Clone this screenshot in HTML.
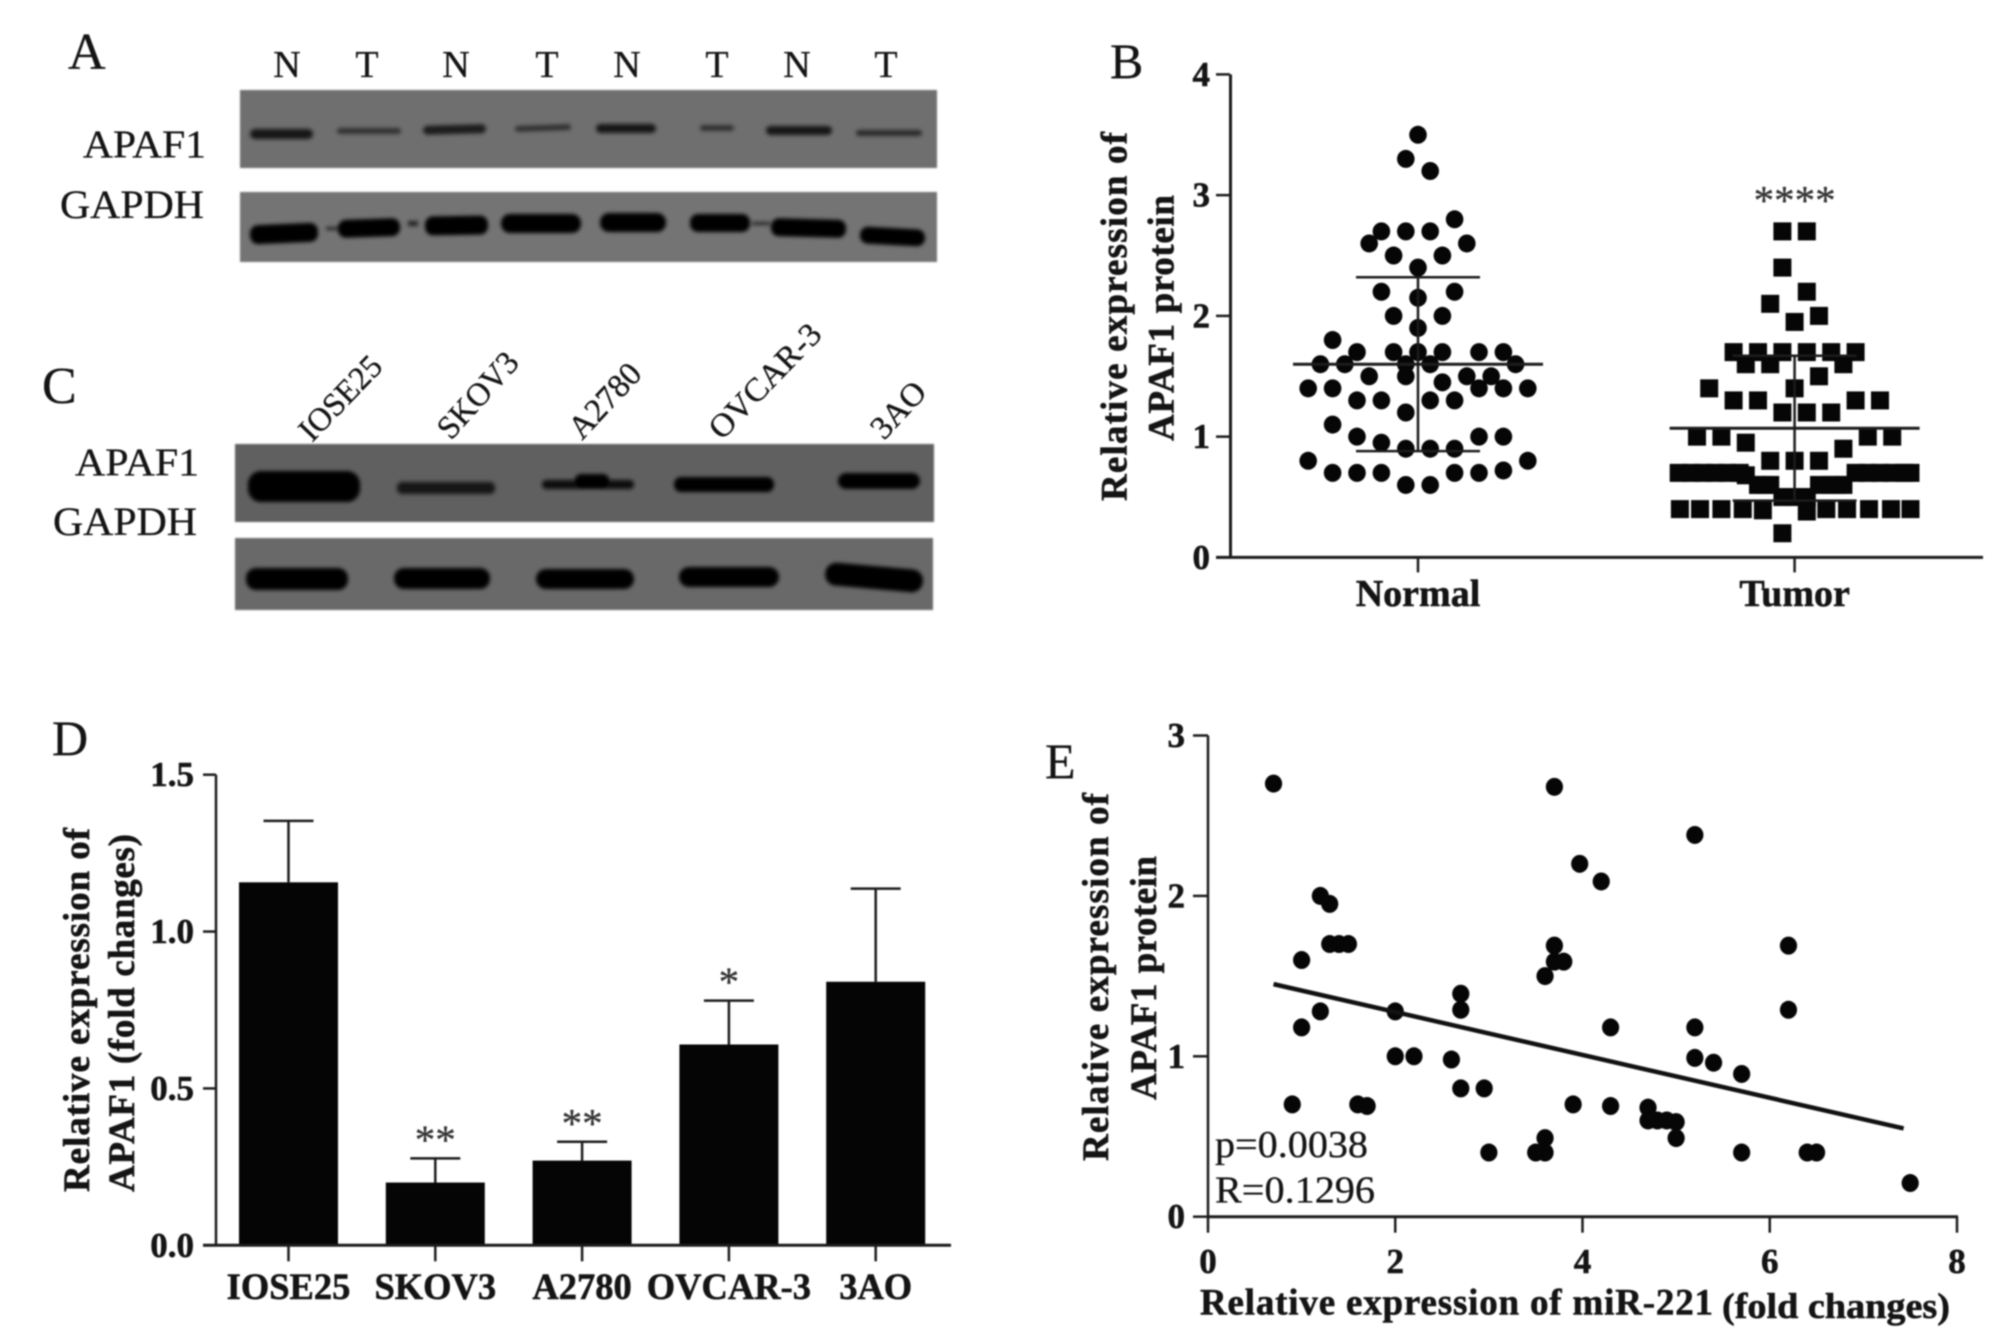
<!DOCTYPE html>
<html>
<head>
<meta charset="utf-8">
<title>APAF1 expression figure</title>
<style>
html,body{margin:0;padding:0;background:#fff;}
svg{display:block;filter:blur(0.85px);}
text{font-family:"Liberation Serif",serif;fill:#141414;stroke:#141414;stroke-width:0.3;}
.b{font-weight:bold;stroke-width:0.55;}
</style>
</head>
<body>
<svg id="fig" xmlns="http://www.w3.org/2000/svg" width="2008" height="1344" viewBox="0 0 2008 1344">
<defs>
<filter id="bs" x="-30%" y="-100%" width="160%" height="300%"><feGaussianBlur stdDeviation="1.9"/></filter>
</defs>
<rect width="2008" height="1344" fill="#fff"/>

<!-- Panel letters -->
<text x="68" y="69" font-size="52">A</text>
<text x="1110" y="78" font-size="50">B</text>
<text x="42" y="403" font-size="52">C</text>
<text x="52" y="755" font-size="50">D</text>
<text x="1045" y="778" font-size="50">E</text>

<!-- Panel A -->
<g>
<g font-size="38" text-anchor="middle">
<text x="287" y="77">N</text>
<text x="367" y="77">T</text>
<text x="456" y="77">N</text>
<text x="547" y="77">T</text>
<text x="627" y="77">N</text>
<text x="717" y="77">T</text>
<text x="797" y="77">N</text>
<text x="886" y="77">T</text>
</g>
<text x="83" y="157" font-size="39" textLength="123" lengthAdjust="spacingAndGlyphs">APAF1</text>
<text x="60" y="218" font-size="40" textLength="144" lengthAdjust="spacingAndGlyphs">GAPDH</text>
<svg x="240" y="90" width="697" height="78" viewBox="240 90 697 78">
<rect x="240" y="90" width="697" height="78" fill="#6f6f6f"/>
<g filter="url(#bs)">
<rect x="250" y="129" width="63" height="10" rx="5" fill="#161616"/>
<rect x="337" y="128" width="64" height="6" rx="3" fill="#303030"/>
<rect x="423" y="125" width="63" height="9" rx="4.5" fill="#1e1e1e" transform="rotate(-1.5 454 130)"/>
<rect x="515" y="125" width="56" height="6" rx="3" fill="#303030" transform="rotate(-2 542 128)"/>
<rect x="596" y="124" width="60" height="9" rx="4.5" fill="#181818"/>
<rect x="700" y="125" width="34" height="6" rx="3" fill="#333"/>
<rect x="766" y="126" width="66" height="9" rx="4.5" fill="#151515"/>
<rect x="856" y="130" width="66" height="6" rx="3" fill="#2c2c2c"/>
</g>
</svg>
<svg x="240" y="192" width="697" height="70" viewBox="240 192 697 70">
<rect x="240" y="192" width="697" height="70" fill="#747474"/>
<g fill="#060606" filter="url(#bs)">
<rect x="250" y="224" width="68" height="19" rx="8" transform="rotate(-2.5 284 233)"/>
<rect x="338" y="219" width="62" height="18" rx="8" transform="rotate(-2 369 228)"/>
<rect x="425" y="216" width="63" height="19" rx="8" transform="rotate(-1 456 225)"/>
<rect x="501" y="214" width="80" height="19" rx="9"/>
<rect x="600" y="213" width="66" height="19" rx="9"/>
<rect x="690" y="214" width="60" height="18" rx="8"/>
<rect x="771" y="219" width="75" height="18" rx="8" transform="rotate(1.5 808 228)"/>
<rect x="860" y="228" width="65" height="17" rx="8" transform="rotate(3 892 236)"/>
<rect x="326" y="227" width="12" height="3" fill="#222"/>
<rect x="408" y="221" width="10" height="5" fill="#222"/>
<rect x="752" y="222" width="18" height="3" fill="#222"/>
</g>
</svg>
</g>

<!-- Panel C -->
<g>
<g font-size="33">
<text transform="translate(312,443) rotate(-46)" textLength="104" lengthAdjust="spacingAndGlyphs">IOSE25</text>
<text transform="translate(451,441) rotate(-48)" textLength="104" lengthAdjust="spacingAndGlyphs">SKOV3</text>
<text transform="translate(582,441) rotate(-47)" textLength="90" lengthAdjust="spacingAndGlyphs">A2780</text>
<text transform="translate(722,441) rotate(-46)" textLength="146" lengthAdjust="spacingAndGlyphs">OVCAR-3</text>
<text transform="translate(884,441) rotate(-47)" textLength="65" lengthAdjust="spacingAndGlyphs">3AO</text>
</g>
<text x="75" y="475" font-size="39" textLength="124" lengthAdjust="spacingAndGlyphs">APAF1</text>
<text x="53" y="535" font-size="40" textLength="144" lengthAdjust="spacingAndGlyphs">GAPDH</text>
<svg x="235" y="444" width="699" height="78" viewBox="235 444 699 78">
<rect x="235" y="444" width="699" height="78" fill="#606060"/>
<g fill="#060606" filter="url(#bs)">
<rect x="248" y="471" width="112" height="31" rx="13"/>
<rect x="397" y="482" width="98" height="12" rx="5" fill="#121212"/>
<rect x="542" y="480" width="92" height="9" rx="4" fill="#0e0e0e"/>
<rect x="575" y="474" width="34" height="13" rx="6"/>
<rect x="674" y="477" width="100" height="15" rx="7"/>
<rect x="838" y="473" width="82" height="16" rx="8"/>
</g>
</svg>
<svg x="235" y="538" width="698" height="72" viewBox="235 538 698 72">
<rect x="235" y="538" width="698" height="72" fill="#696969"/>
<g fill="#060606" filter="url(#bs)">
<rect x="246" y="568" width="102" height="22" rx="10"/>
<rect x="394" y="568" width="96" height="21" rx="10"/>
<rect x="536" y="569" width="98" height="20" rx="10"/>
<rect x="679" y="567" width="100" height="20" rx="10"/>
<rect x="825" y="566" width="98" height="23" rx="11" transform="rotate(5 874 578)"/>
</g>
</svg>
</g>

<g id="chartB"></g>
<g id="chartD"></g>
<g id="chartE"></g>
</svg>

<script>
/* Panel B data */
const bTickValues = [0, 1, 2, 3, 4];
const bTickLabels = ['0', '1', '2', '3', '4'];
const bCategories = ['Normal', 'Tumor'];
const normalValues = [3.5, 3.3, 3.2, 2.8, 2.7, 2.7, 2.7, 2.6, 2.6, 2.5, 2.5, 2.4, 2.2, 2.2, 2.15, 2.0, 2.0, 1.9, 1.8, 1.7, 1.7, 1.7, 1.7, 1.7, 1.7, 1.6, 1.6, 1.6, 1.6, 1.6, 1.5, 1.5, 1.5, 1.5, 1.45, 1.4, 1.4, 1.4, 1.4, 1.4, 1.3, 1.3, 1.3, 1.3, 1.2, 1.1, 1.0, 1.0, 1.0, 0.95, 0.9, 0.9, 0.9, 0.8, 0.8, 0.7, 0.7, 0.7, 0.7, 0.7, 0.72, 0.6, 0.6];
const normalSwarmRank = [0, -1, 1, 3, -3, -1, 1, -4, 4, -2, 2, 0, -3, 3, 0, -2, 2, 0, -7, -5, -2, 0, 2, 5, 7, -8, -6, -1, 1, 8, -4, -1, 4, 6, 2, -9, -7, 5, 7, 9, -5, -3, 1, 3, -1, -7, -5, 5, 7, -3, -1, 1, 3, -9, 9, -7, -5, -3, 3, 5, 7, -1, 1];
const tumorValues = [2.7, 2.7, 2.4, 2.2, 2.1, 2.0, 1.95, 1.7, 1.7, 1.7, 1.7, 1.7, 1.7, 1.6, 1.6, 1.6, 1.5, 1.4, 1.4, 1.3, 1.3, 1.3, 1.3, 1.2, 1.2, 1.2, 1.0, 1.0, 1.0, 1.0, 0.95, 0.9, 0.8, 0.8, 0.8, 0.7, 0.7, 0.7, 0.7, 0.7, 0.7, 0.68, 0.7, 0.7, 0.7, 0.7, 0.7, 0.7, 0.6, 0.6, 0.6, 0.6, 0.6, 0.6, 0.6, 0.5, 0.5, 0.5, 0.4, 0.4, 0.4, 0.4, 0.39, 0.38, 0.4, 0.4, 0.4, 0.4, 0.4, 0.2];
const tumorSwarmRank = [-1, 1, -1, 1, -2, 2, 0, -5, -3, -1, 1, 3, 5, -4, -2, 4, 2, -7, 0, -5, -3, 5, 7, -1, 1, 3, -8, -6, 6, 8, -4, 4, -2, 0, 2, -9.5, -8.5, -7.5, -6.5, -5.5, -4.5, -4, 5, 6, 7, 8, 9, 9.5, -3, -2.5, -2, 2, 3, 3.5, 4, -1, 0, 1, -9.4, -7.75, -6, -4.25, -2.6, 1, 2.6, 4.3, 6.1, 7.9, 9.5, -1];
const bMeans = [1.6, 1.07];
const bSpreads = [0.72, 0.6];
const bSignificance = '****';

/* Panel D data */
const dTickValues = [0, 0.5, 1, 1.5];
const dTickLabels = ['0.0', '0.5', '1.0', '1.5'];
const dCategories = ['IOSE25', 'SKOV3', 'A2780', 'OVCAR-3', '3AO'];
const dValues = [1.157, 0.2, 0.27, 0.64, 0.84];
const dErrors = [0.196, 0.077, 0.06, 0.14, 0.297];
const dStars = ['', '**', '**', '*', ''];

/* Panel E data */
const eYTickValues = [0, 1, 2, 3];
const eYTickLabels = ['0', '1', '2', '3'];
const eXTickValues = [0, 2, 4, 6, 8];
const eXTickLabels = ['0', '2', '4', '6', '8'];
const eX = [0.7, 3.7, 5.2, 3.97, 4.2, 1.2, 1.3, 1.3, 1.4, 1.5, 3.7, 6.2, 1.0, 3.7, 3.8, 3.6, 2.7, 1.2, 2.0, 2.7, 6.2, 1.0, 4.3, 5.2, 2.0, 2.2, 2.6, 5.2, 5.4, 5.7, 2.7, 2.95, 0.9, 1.6, 1.7, 3.9, 4.3, 4.7, 4.7, 4.8, 4.9, 5.0, 5.0, 3.6, 3.5, 3.6, 3.0, 5.7, 6.4, 6.5, 7.5];
const eY = [2.7, 2.68, 2.38, 2.2, 2.09, 2.0, 1.95, 1.7, 1.7, 1.7, 1.69, 1.69, 1.6, 1.59, 1.59, 1.5, 1.39, 1.28, 1.28, 1.29, 1.29, 1.18, 1.18, 1.18, 1.0, 1.0, 0.98, 0.99, 0.96, 0.89, 0.8, 0.8, 0.7, 0.7, 0.69, 0.7, 0.69, 0.68, 0.6, 0.6, 0.6, 0.59, 0.49, 0.49, 0.4, 0.4, 0.4, 0.4, 0.4, 0.4, 0.21];
const eTrendX = [0.7, 7.43];
const eTrendY = [1.45, 0.55];
const eStatP = 'p=0.0038';
const eStatR = 'R=0.1296';

const NS = 'http://www.w3.org/2000/svg';
const INK = '#1c1c1c';
function make(parent, tag, attrs, txt) {
  const n = document.createElementNS(NS, tag);
  for (const k in attrs) n.setAttribute(k, attrs[k]);
  if (txt !== undefined) n.textContent = txt;
  parent.appendChild(n);
  return n;
}
function linear(d0, d1, r0, r1) {
  return v => r0 + (v - d0) * (r1 - r0) / (d1 - d0);
}
function hline(g, x1, x2, y, w) {
  return make(g, 'line', {x1: x1, x2: x2, y1: y, y2: y, stroke: INK, 'stroke-width': w});
}
function vline(g, x, y1, y2, w) {
  return make(g, 'line', {x1: x, x2: x, y1: y1, y2: y2, stroke: INK, 'stroke-width': w});
}
function vtitle(g, x, yBottom, len, size, s) {
  return make(g, 'text', {class: 'b', 'font-size': size, textLength: len, lengthAdjust: 'spacing', transform: 'translate(' + x + ',' + yBottom + ') rotate(-90)'}, s);
}
let el;

/* ---------- Panel B ---------- */
(function () {
  const g = document.getElementById('chartB');
  const y = linear(0, 4, 557.4, 74.4);
  const step = 12.2;
  const x = i => 1418 + i * 376.6;

  el = vline(g, 1230.5, y(4), y(0) + 1, 3);
  
  
  el = hline(g, 1216, 1983, y(0), 3);
  
  

  bTickValues.forEach((v, i) => {
    el = hline(g, 1216, 1230, y(v), 2.5);
    
    
    el = make(g, 'text', {class: 'b', x: 1210, y: y(v) + 11.5, 'font-size': 35, 'text-anchor': 'end'}, bTickLabels[i]);
    
    
  });
  bCategories.forEach((c, i) => {
    el = vline(g, x(i), y(0), y(0) + 15, 2.5);
    
    
    el = make(g, 'text', {class: 'b', x: x(i), y: 606, 'font-size': 38, 'text-anchor': 'middle'}, c);
    
    
  });
  el = vtitle(g, 1126.5, 501, 369, 37, 'Relative expression of');
  
  
  el = vtitle(g, 1173.5, 441, 246, 37, 'APAF1 protein');
  
  

  normalValues.forEach((v, i) => {
    el = make(g, 'ellipse', {cx: x(0) + normalSwarmRank[i] * step, cy: y(v), rx: 8.8, ry: 9, fill: '#060606'});
    
    
  });
  tumorValues.forEach((v, i) => {
    el = make(g, 'rect', {x: x(1) + tumorSwarmRank[i] * step - 9, y: y(v) - 9, width: 18, height: 18, fill: '#060606'});
    
    
  });
  bMeans.forEach((m, i) => {
    el = hline(g, x(i) - 125, x(i) + 125, y(m), 3);
    
    
    el = vline(g, x(i), y(m + bSpreads[i]), y(m - bSpreads[i]), 2.5);
    
    
    el = hline(g, x(i) - 62, x(i) + 62, y(m + bSpreads[i]), 2.5);
    
    
    el = hline(g, x(i) - 62, x(i) + 62, y(m - bSpreads[i]), 2.5);
    
    
  });
  el = make(g, 'text', {x: x(1), y: 214, 'font-size': 41, 'text-anchor': 'middle', style: 'fill:#333;stroke:#333'}, bSignificance);
  
  
})();

/* ---------- Panel D ---------- */
(function () {
  const g = document.getElementById('chartD');
  const y = linear(0, 1.5, 1245.3, 774.7);
  const x = i => 288.5 + i * 146.8;
  const barW = 99;

  dCategories.forEach((c, i) => {
    const top = y(dValues[i]);
    el = vline(g, x(i), y(dValues[i] + dErrors[i]), top, 2.5);
    
    
    el = hline(g, x(i) - 25, x(i) + 25, y(dValues[i] + dErrors[i]), 2.5);
    
    
    el = make(g, 'rect', {x: x(i) - barW / 2, y: top, width: barW, height: y(0) - top, fill: '#050505'});
    
    
    el = vline(g, x(i), y(0), y(0) + 16, 2.5);
    
    
    el = make(g, 'text', {class: 'b', x: x(i) + (i === 0 ? 0 : 0), y: 1299, 'font-size': 36.5, 'text-anchor': 'middle'}, c);
    
    
    if (dStars[i]) {
      el = make(g, 'text', {x: x(i), y: y(dValues[i] + dErrors[i]) - 5, 'font-size': 41, 'text-anchor': 'middle', style: 'fill:#333;stroke:#333'}, dStars[i]);
      
      
    }
  });
  el = vline(g, 216, y(1.5), y(0) + 1, 2.5);
  
  
  el = hline(g, 203, 951, y(0), 3);
  
  
  dTickValues.forEach((v, i) => {
    el = hline(g, 203, 216, y(v), 2.5);
    
    
    el = make(g, 'text', {class: 'b', x: 194, y: y(v) + 11.5, 'font-size': 35, 'text-anchor': 'end'}, dTickLabels[i]);
    
    
  });
  el = vtitle(g, 89, 1192, 364, 37, 'Relative expression of');
  
  
  el = vtitle(g, 134, 1192, 358, 37, 'APAF1 (fold changes)');
  
  
})();

/* ---------- Panel E ---------- */
(function () {
  const g = document.getElementById('chartE');
  const x = linear(0, 8, 1208, 1957);
  const y = linear(0, 3, 1216.7, 735.5);

  el = vline(g, x(0), y(3), y(0) + 1, 2.5);
  
  
  el = hline(g, x(0) - 1, x(8) + 1, y(0), 3);
  
  
  eYTickValues.forEach((v, i) => {
    el = hline(g, 1193, x(0), y(v), 2.5);
    
    
    el = make(g, 'text', {class: 'b', x: 1185, y: y(v) + 11.5, 'font-size': 35, 'text-anchor': 'end'}, eYTickLabels[i]);
    
    
  });
  eXTickValues.forEach((v, i) => {
    el = vline(g, x(v), y(0), y(0) + 16, 2.5);
    
    
    el = make(g, 'text', {class: 'b', x: x(v), y: 1273, 'font-size': 35, 'text-anchor': 'middle'}, eXTickLabels[i]);
    
    
  });
  eX.forEach((vx, i) => {
    el = make(g, 'ellipse', {cx: x(vx), cy: y(eY[i]), rx: 8.6, ry: 9, fill: '#060606'});
    
    
  });
  el = make(g, 'line', {x1: x(eTrendX[0]), y1: y(eTrendY[0]), x2: x(eTrendX[1]), y2: y(eTrendY[1]), stroke: '#111', 'stroke-width': 4.5});
  
  
  el = make(g, 'text', {x: 1215, y: 1157, 'font-size': 38, textLength: 153, lengthAdjust: 'spacingAndGlyphs'}, eStatP);
  
  
  el = make(g, 'text', {x: 1215, y: 1202.5, 'font-size': 38, textLength: 160, lengthAdjust: 'spacingAndGlyphs'}, eStatR);
  
  
  el = make(g, 'text', {class: 'b', x: 1200, y: 1314.5, 'font-size': 37, textLength: 513, lengthAdjust: 'spacing'}, 'Relative expression of miR-221');
  
  
  el = make(g, 'text', {class: 'b', x: 1722, y: 1318, 'font-size': 36, textLength: 228, lengthAdjust: 'spacingAndGlyphs'}, '(fold changes)');
  
  
  el = vtitle(g, 1108, 1161, 368, 37, 'Relative expression of');
  
  
  el = vtitle(g, 1156, 1100, 244, 37, 'APAF1 protein');
  
  
})();
</script>
</body>
</html>
